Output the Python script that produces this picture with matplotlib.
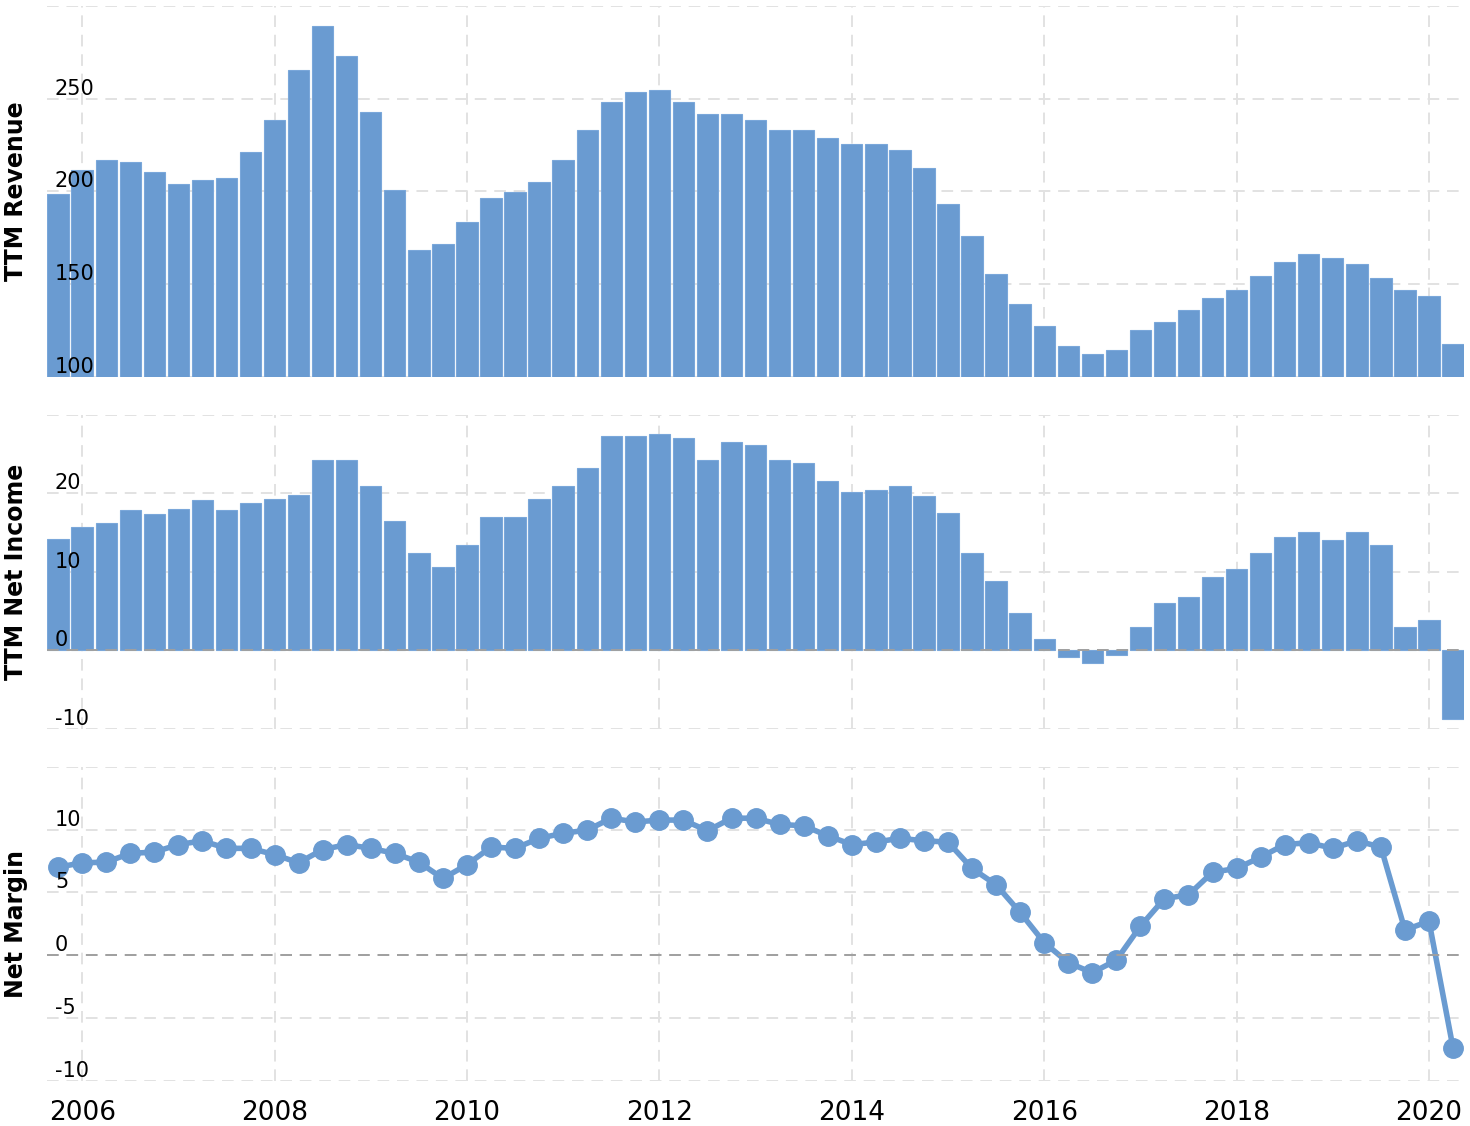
import numpy as np
import matplotlib
matplotlib.use('Agg')
import matplotlib.pyplot as plt
from matplotlib.transforms import blended_transform_factory

# quarterly data, Q4 2005 .. Q2 2020
quarters = np.arange(2005.75, 2020.26, 0.25)

revenue = [198.8, 211.7, 217.1, 216.0, 210.6, 204.2, 206.3, 207.4, 221.4, 238.7,
           265.7, 289.4, 273.2, 243.0, 200.9, 168.5, 171.8, 183.6, 196.6, 199.8,
           205.2, 217.1, 233.3, 248.4, 253.8, 254.9, 248.4, 241.9, 241.9, 238.7,
           233.3, 233.3, 229.0, 225.7, 225.7, 222.5, 212.8, 193.4, 176.1, 155.6,
           139.4, 127.5, 116.7, 112.4, 114.6, 125.4, 129.7, 136.2, 142.6, 147.0,
           154.5, 162.1, 166.4, 164.2, 161.0, 153.4, 147.0, 143.7, 117.8]

net_income = [14.2, 15.7, 16.2, 17.8, 17.3, 18.0, 19.1, 17.8, 18.8, 19.3,
              19.8, 24.2, 24.2, 20.9, 16.5, 12.4, 10.6, 13.4, 17.0, 17.0,
              19.3, 20.9, 23.2, 27.3, 27.3, 27.5, 27.0, 24.2, 26.5, 26.2,
              24.2, 23.9, 21.6, 20.1, 20.4, 20.9, 19.6, 17.5, 12.4, 8.8,
              4.7, 1.4, -0.85, -1.6, -0.6, 2.9, 6.0, 6.8, 9.3, 10.3,
              12.4, 14.4, 15.0, 14.0, 15.0, 13.4, 2.9, 3.9, -8.8]

net_margin = [7.0, 7.35, 7.4, 8.1, 8.2, 8.8, 9.1, 8.5, 8.5, 8.0,
              7.35, 8.4, 8.8, 8.5, 8.1, 7.4, 6.1, 7.2, 8.6, 8.5,
              9.3, 9.7, 9.95, 10.9, 10.6, 10.75, 10.75, 9.9, 10.9, 10.9,
              10.4, 10.3, 9.5, 8.8, 9.0, 9.3, 9.1, 9.0, 6.9, 5.6,
              3.4, 1.0, -0.6, -1.4, -0.4, 2.3, 4.5, 4.8, 6.6, 6.9,
              7.8, 8.8, 8.95, 8.5, 9.1, 8.6, 2.0, 2.7, -7.4]

year_ticks = [2006, 2008, 2010, 2012, 2014, 2016, 2018, 2020]

blue = '#6a9bd1'
grid_c = '#e2e2e2'
dash = (0, (6, 4))

fig = plt.figure(figsize=(14.7, 11.26), dpi=100)
left, width = 0.032, 0.964
ax1 = fig.add_axes([left, 0.6652, width, 0.3295])
ax2 = fig.add_axes([left, 0.3528, width, 0.2789])
ax3 = fig.add_axes([left, 0.0402, width, 0.2789])

panels = [
    (ax1, 'TTM Revenue', (100, 300), [100, 150, 200, 250, 300]),
    (ax2, 'TTM Net Income', (-10, 30), [-10, 0, 10, 20, 30]),
    (ax3, 'Net Margin', (-10, 15), [-10, -5, 0, 5, 10, 15]),
]

for ax, label, ylim, yticks in panels:
    ax.set_xlim(2005.635, 2020.365)
    ax.set_ylim(*ylim)
    ax.set_yticks(yticks)
    ax.set_xticks(year_ticks)
    ax.grid(True, color=grid_c, linestyle=dash, linewidth=1.4)
    ax.set_axisbelow(True)
    for s in ax.spines.values():
        s.set_visible(False)
    ax.tick_params(length=0, labelleft=False, labelbottom=False)
    ax.set_ylabel(label, fontsize=17, fontweight='bold')
    ax.yaxis.set_label_coords(-0.0135, 0.5)
    # value labels sit inside the plot, just above their grid line
    tr = blended_transform_factory(ax.transAxes, ax.transData)
    for t in yticks[:-1]:
        ax.text(0.0056, t, str(t), transform=tr, fontsize=15, ha='left',
                va='bottom', zorder=5)
    if ylim[0] < 0:
        ax.axhline(0, color='#a0a0a0', linestyle=dash, linewidth=1.4, zorder=4)

ax1.bar(quarters, revenue, width=0.222, color=blue, edgecolor='#7aa7da',
        linewidth=0.8, zorder=2)
ax2.bar(quarters, net_income, width=0.222, color=blue, edgecolor='#7aa7da',
        linewidth=0.8, zorder=2)
ax3.plot(quarters, net_margin, color=blue, linewidth=4, marker='o',
         markersize=14, zorder=3)

ax3.tick_params(labelbottom=True, labelsize=19, pad=14)

fig.savefig('out.png', dpi=100)
